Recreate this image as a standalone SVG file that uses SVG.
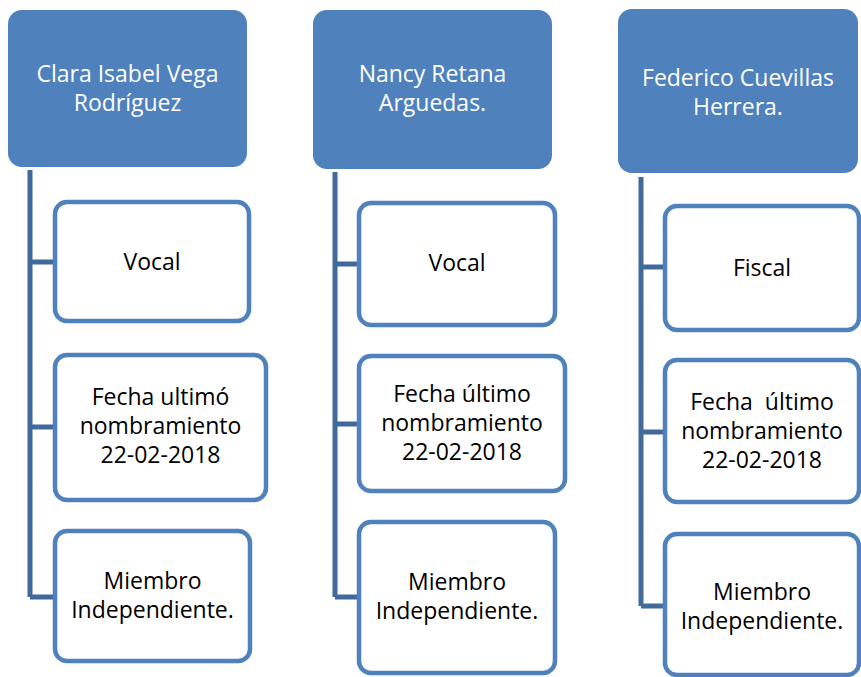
<svg xmlns="http://www.w3.org/2000/svg" width="861" height="677" viewBox="0 0 861 677">
<style>
.hdr{fill:#4F81BD;}
.box{fill:#FFFFFF;stroke:#4F81BD;stroke-width:4.5;}
.ht{font-family:"Open Sans","Noto Sans",sans-serif;font-size:23px;fill:#FFFFFF;text-anchor:middle;}
.bt{font-family:"Open Sans","Noto Sans",sans-serif;font-size:23px;fill:#000000;text-anchor:middle;white-space:pre;}
.con{fill:none;stroke:#41699C;stroke-width:5;stroke-linejoin:miter;}
</style>
<rect width="861" height="677" fill="#FFFFFF"/>
<g id="connectors">
<path class="con" d="M30,170 V597 M30,262 H55 M30,427 H55 M30,597 H55"/>
<path class="con" d="M335,172 V597 M335,264 H359 M335,424 H359 M335,597 H359"/>
<path class="con" d="M641,177 V606 M641,267 H665 M641,432 H665 M641,606 H665"/>
</g>
<g id="col1-header">
<rect class="hdr" x="8" y="10" width="239" height="157" rx="14"/>
<text class="ht" x="127.5" y="82">Clara Isabel Vega</text>
<text class="ht" x="127.5" y="111">Rodríguez</text>
</g>
<g id="col1-cargo">
<rect class="box" x="55" y="202" width="194" height="119" rx="12"/>
<text class="bt" x="152" y="270">Vocal</text>
</g>
<g id="col1-fecha">
<rect class="box" x="55" y="355" width="211" height="145" rx="12"/>
<text class="bt" x="160.5" y="405">Fecha ultimó</text>
<text class="bt" x="160.5" y="434">nombramiento</text>
<text class="bt" x="160.5" y="463">22-02-2018</text>
</g>
<g id="col1-miembro">
<rect class="box" x="55" y="531" width="195" height="130" rx="12"/>
<text class="bt" x="152.5" y="589">Miembro</text>
<text class="bt" x="152.5" y="618">Independiente.</text>
</g>
<g id="col2-header">
<rect class="hdr" x="313" y="10" width="239" height="159" rx="14"/>
<text class="ht" x="432.5" y="82">Nancy Retana</text>
<text class="ht" x="432.5" y="111">Arguedas.</text>
</g>
<g id="col2-cargo">
<rect class="box" x="359" y="203" width="196" height="122" rx="12"/>
<text class="bt" x="457" y="271">Vocal</text>
</g>
<g id="col2-fecha">
<rect class="box" x="359" y="356" width="206" height="135" rx="12"/>
<text class="bt" x="462" y="402">Fecha último</text>
<text class="bt" x="462" y="431">nombramiento</text>
<text class="bt" x="462" y="460">22-02-2018</text>
</g>
<g id="col2-miembro">
<rect class="box" x="359" y="522" width="196" height="151" rx="12"/>
<text class="bt" x="457" y="590">Miembro</text>
<text class="bt" x="457" y="619">Independiente.</text>
</g>
<g id="col3-header">
<rect class="hdr" x="618" y="9" width="240" height="164" rx="14"/>
<text class="ht" x="738" y="86">Federico Cuevillas</text>
<text class="ht" x="738" y="115">Herrera.</text>
</g>
<g id="col3-cargo">
<rect class="box" x="665" y="206" width="194" height="124" rx="12"/>
<text class="bt" x="762" y="276">Fiscal</text>
</g>
<g id="col3-fecha">
<rect class="box" x="665" y="360" width="194" height="142" rx="12"/>
<text class="bt" x="762" y="410">Fecha  último</text>
<text class="bt" x="762" y="439">nombramiento</text>
<text class="bt" x="762" y="468">22-02-2018</text>
</g>
<g id="col3-miembro">
<rect class="box" x="665" y="534" width="194" height="141" rx="12"/>
<text class="bt" x="762" y="600">Miembro</text>
<text class="bt" x="762" y="629">Independiente.</text>
</g>
</svg>
